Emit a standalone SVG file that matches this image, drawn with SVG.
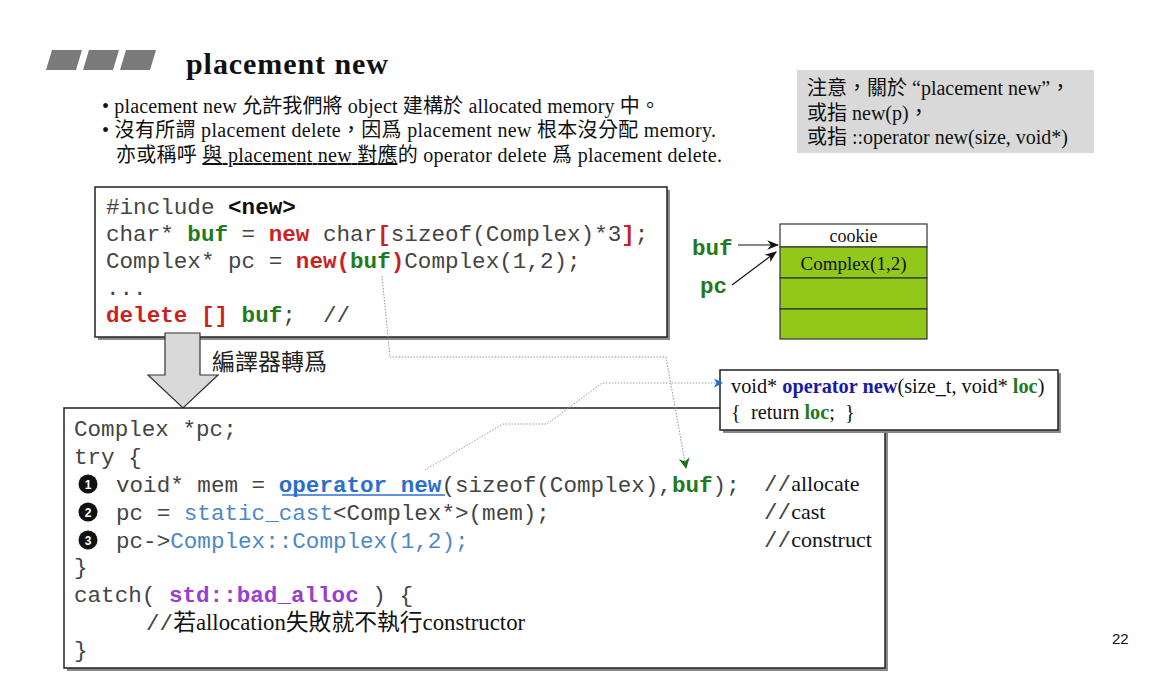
<svg xmlns="http://www.w3.org/2000/svg" width="1171" height="693" viewBox="0 0 1171 693">
  <style>
    text { white-space: pre; }
    .serif { font-family: "Liberation Serif", "Noto Sans CJK TC", serif; fill: #111; }
    .cjk { font-family: "Noto Sans CJK TC", "Liberation Serif", sans-serif; fill: #222; }
    .mono { font-family: "Liberation Mono", monospace; font-size: 22.6px; fill: #444; }
    .b { font-weight: bold; }
    .red { fill: #cc1f1f; }
    .grn { fill: #1f7a22; }
    .blk { fill: #111; }
    .blue { fill: #2a6fd0; }
    .lblue { fill: #4b88c8; }
    .purple { fill: #9b3dd0; }
    .box { fill: #fff; stroke: #222; stroke-width: 1.5; }
    .shadow { fill: #8a8a8a; }
    .mem { fill: #92c81a; stroke: #333; stroke-width: 1.2; }
    .dot { fill: none; stroke-width: 1; stroke-dasharray: 1.5 1.5; }
    .ul { text-decoration: underline; }
  </style>
  <defs>
    <marker id="arrBlue" viewBox="0 0 10 10" refX="9" refY="5" markerWidth="9" markerHeight="9" orient="auto" markerUnits="userSpaceOnUse">
      <path d="M0,0 L10,5 L0,10 L3,5 Z" fill="#1f63e0"/>
    </marker>
    <marker id="arrGreen" viewBox="0 0 10 10" refX="9" refY="5" markerWidth="11" markerHeight="11" orient="auto" markerUnits="userSpaceOnUse">
      <path d="M0,0 L10,5 L0,10 L3,5 Z" fill="#1d6e1d"/>
    </marker>
    <marker id="arrBlack" viewBox="0 0 10 10" refX="9" refY="5" markerWidth="12" markerHeight="12" orient="auto" markerUnits="userSpaceOnUse">
      <path d="M0,1 L10,5 L0,9 L3,5 Z" fill="#111"/>
    </marker>
  </defs>

  <rect width="1171" height="693" fill="#fff"/>

  <!-- heading -->
  <g id="heading">
    <polygon points="52,50 82,50 76,70 46,70" fill="#7a7a7a"/>
    <polygon points="89,50 119,50 113,70 83,70" fill="#7a7a7a"/>
    <polygon points="126,50 156,50 150,70 120,70" fill="#7a7a7a"/>
    <text x="186" y="74" class="serif b" font-size="30" textLength="202">placement new</text>
  </g>

  <!-- bullet text -->
  <g id="bullets" class="serif" font-size="20">
    <text x="102" y="113" textLength="558">• placement new 允許我們將 object 建構於 allocated memory 中。</text>
    <text x="102" y="137" textLength="614">• 沒有所謂 placement delete，因爲 placement new 根本沒分配 memory.</text>
    <text x="116" y="162" textLength="606">亦或稱呼 <tspan class="ul">與 placement new 對應</tspan>的 operator delete 爲 placement delete.</text>
  </g>

  <!-- note -->
  <g id="note">
    <rect x="797" y="70" width="297" height="83" fill="#d9d9d9"/>
    <g class="serif" font-size="20">
      <text x="807" y="95">注意，關於 “placement new”，</text>
      <text x="807" y="120">或指 new(p)，</text>
      <text x="807" y="144">或指 ::operator new(size, void*)</text>
    </g>
  </g>

  <!-- source code -->
  <g id="source">
    <rect x="98" y="190" width="572" height="150" class="shadow"/>
    <rect x="95" y="187" width="572" height="150" class="box"/>
    <g class="mono">
      <text x="106" y="214">#include <tspan class="b blk">&lt;new&gt;</tspan></text>
      <text x="106" y="241">char* <tspan class="b grn">buf</tspan> = <tspan class="b red">new</tspan> char<tspan class="b red">[</tspan>sizeof(Complex)*3<tspan class="b red">]</tspan>;</text>
      <text x="106" y="268">Complex* pc = <tspan class="b red">new(</tspan><tspan class="b grn">buf</tspan><tspan class="b red">)</tspan>Complex(1,2);</text>
      <text x="106" y="295">...</text>
      <text x="106" y="322"><tspan class="b red">delete [] </tspan><tspan class="b grn">buf</tspan>;  //</text>
    </g>
  </g>

  <!-- memory layout -->
  <g id="memory">
    <rect x="780" y="224" width="147" height="23" fill="#fff" stroke="#333" stroke-width="1.2"/>
    <rect x="780" y="247" width="147" height="31" class="mem"/>
    <rect x="780" y="278" width="147" height="31" class="mem"/>
    <rect x="780" y="309" width="147" height="30" class="mem"/>
    <text x="853.5" y="242" class="serif" font-size="18" text-anchor="middle">cookie</text>
    <text x="853.5" y="270" class="serif" font-size="19" text-anchor="middle" fill="#1a2a10">Complex(1,2)</text>
  </g>

  <g id="pointers">
    <text x="692" y="255" class="mono b grn" font-size="21">buf</text>
    <text x="700" y="293" class="mono b grn" font-size="21">pc</text>
  </g>

  <!-- compile step arrow -->
  <g id="compile-arrow">
    <polygon points="165,333 200,333 200,375 218,375 183,408 148,375 165,375" fill="#d9d9d9" stroke="#333" stroke-width="1.2"/>
    <text x="212" y="370" class="cjk" font-size="23">編譯器轉爲</text>
  </g>

  <!-- expanded code -->
  <g id="expanded">
    <rect x="67" y="411" width="821" height="260" class="shadow"/>
    <rect x="64" y="408" width="821" height="260" class="box"/>
    <g class="mono">
      <text x="74" y="436">Complex *pc;</text>
      <text x="74" y="464">try {</text>
      <text x="116" y="492">void* mem = <tspan class="b blue">operator new</tspan>(sizeof(Complex),<tspan class="b grn">buf</tspan>);</text>
      <text x="116" y="520">pc = <tspan class="lblue">static_cast</tspan>&lt;Complex*&gt;(mem);</text>
      <text x="116" y="548">pc-&gt;<tspan class="lblue">Complex::Complex(1,2);</tspan></text>
      <text x="74" y="574">}</text>
      <text x="74" y="602">catch( <tspan class="b purple">std::bad_alloc</tspan> ) {</text>
      <text x="74" y="657">}</text>
    </g>
    <line x1="282" y1="495" x2="445" y2="495" stroke="#2a6fd0" stroke-width="1.5"/>
    <!-- step markers -->
    <g font-family="Liberation Sans, sans-serif" font-size="12" font-weight="bold" fill="#fff" text-anchor="middle">
      <circle cx="88" cy="484" r="9.5" fill="#111"/>
      <text x="88" y="488.5">1</text>
      <circle cx="88" cy="512" r="9.5" fill="#111"/>
      <text x="88" y="516.5">2</text>
      <circle cx="88" cy="540" r="9.5" fill="#111"/>
      <text x="88" y="544.5">3</text>
    </g>
    <!-- comments -->
    <g>
      <text x="764" y="491" class="serif" font-size="22"><tspan class="mono" font-size="21">//</tspan>allocate</text>
      <text x="764" y="519" class="serif" font-size="22"><tspan class="mono" font-size="21">//</tspan>cast</text>
      <text x="764" y="547" class="serif" font-size="22"><tspan class="mono" font-size="21">//</tspan>construct</text>
      <text x="146" y="630" class="serif" font-size="22.8"><tspan class="mono" font-size="21">//</tspan>若allocation失敗就不執行constructor</text>
    </g>
  </g>

  <!-- operator new definition -->
  <g id="operator-new">
    <rect x="723" y="373" width="338" height="60" class="shadow"/>
    <rect x="720" y="370" width="338" height="60" class="box"/>
    <g class="serif" font-size="20.3">
      <text x="731" y="393">void* <tspan class="b" fill="#1a1aa8">operator new</tspan>(size_t, void* <tspan class="b grn">loc</tspan>)</text>
      <text x="731" y="419">{  return <tspan class="b grn">loc</tspan>;  }</text>
    </g>
  </g>

  <!-- connectors -->
  <g id="connectors">
    <line x1="738" y1="245" x2="778" y2="245" stroke="#111" stroke-width="1.2" marker-end="url(#arrBlack)"/>
    <line x1="732" y1="285" x2="776" y2="252" stroke="#111" stroke-width="1.2" marker-end="url(#arrBlack)"/>
    <polyline points="382,276 390,357 666,357 686,468" class="dot" stroke="#8a9a8a" marker-end="url(#arrGreen)"/>
    <polyline points="425,470 503,424 547,424 602,383 722,383" class="dot" stroke="#8aa0b8" marker-end="url(#arrBlue)"/>
  </g>

  <text x="1112" y="644" font-family="Liberation Sans, sans-serif" font-size="15" fill="#111">22</text>
</svg>
